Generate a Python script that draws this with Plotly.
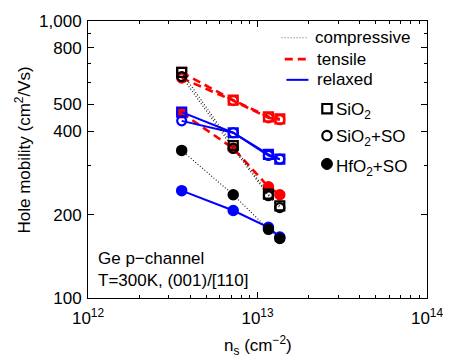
import plotly.graph_objects as go

# Sheet carrier density (cm^-2)
ns = [3.57e12, 7.19e12, 1.16e13, 1.354e13]

# Hole mobility (cm^2/Vs) by strain and gate stack
tensile_sio2 = [652, 518, 451, 443]
tensile_sio2_so = [622, 516, 447, 440]
tensile_hfo2_so = [466, 347, 252, 236]

relaxed_sio2 = [469, 395, 330, 317]
relaxed_sio2_so = [436, 395, 327, 317]
relaxed_hfo2_so = [244, 207, 180, 166]

compressive_sio2 = [652, 355, 237, 215]
compressive_sio2_so = [630, 347, 234, 212]
compressive_hfo2_so = [341, 236, 177, 164]

strain_labels = ["compressive", "tensile", "relaxed"]
stack_labels = ["SiO<sub>2</sub>", "SiO<sub>2</sub>+SO", "HfO<sub>2</sub>+SO"]

x_tickvals = [1e12, 1e13, 1e14]
x_ticktext = ["10<sup>12</sup>", "10<sup>13</sup>", "10<sup>14</sup>"]
x_minor = [k * 10.0 ** e for e in (12, 13) for k in range(2, 10)]
y_tickvals = [100, 200, 400, 500, 800, 1000]
y_ticktext = ["100", "200", "400", "500", "800", "1,000"]
y_minor = [300, 600, 700, 900]

FONT = "Liberation Sans, Arial, Helvetica, sans-serif"

line_styles = {
    "tensile": dict(color="#ff0000", width=2.6, dash="8px,5px"),
    "relaxed": dict(color="#0000ff", width=2),
    "compressive": dict(color="#111111", width=1.1, dash="1px,2px"),
}
mark_colors = {"tensile": "#ff0000", "relaxed": "#0000ff", "compressive": "#000000"}
symbols = [("square-open", 9, 2.2), ("circle-open", 9, 2.2), ("circle", 10, 1.5)]

series = [
    ("tensile", [tensile_sio2, tensile_sio2_so, tensile_hfo2_so]),
    ("relaxed", [relaxed_sio2, relaxed_sio2_so, relaxed_hfo2_so]),
    ("compressive", [compressive_sio2, compressive_sio2_so, compressive_hfo2_so]),
]

fig = go.Figure()
for strain, stacks in series:
    for (sym, size, lw), vals in zip(symbols, stacks):
        fig.add_trace(go.Scatter(
            x=ns, y=vals, mode="lines+markers",
            line=line_styles[strain],
            marker=dict(symbol=sym, size=size, color=mark_colors[strain],
                        line=dict(color=mark_colors[strain], width=lw)),
            showlegend=False, hoverinfo="skip",
        ))

L, R, T, B = 88, 19, 17, 62
W, H = 455, 360
PW, PH = W - L - R, H - T - B


def px(x):
    return (x - L) / PW


def py(y):
    return (H - B - y) / PH


shapes = []
annotations = []

# Key for the strain line styles
key_lines = [
    ("compressive", 286.7, 314.3, 34, 318.5),
    ("tensile", 290, 314, 55.7, 321),
    ("relaxed", 291.7, 314.3, 76.7, 321),
]
for name, x0, x1, y, xt in key_lines:
    st = dict(line_styles[name])
    if name == "compressive":
        st = dict(color="#666666", width=1, dash="1px,2px")
    shapes.append(dict(type="line", xref="paper", yref="paper",
                       x0=px(x0), x1=px(x1), y0=py(y), y1=py(y), line=st))
    annotations.append(dict(text=name, xref="paper", yref="paper", x=px(xt), y=py(y),
                            xanchor="left", yanchor="middle", showarrow=False,
                            font=dict(size=17)))

# Key for the gate-stack markers
mx = 333.3
key_marks = [(106, 108, "square"), (133.3, 136, "open"), (162, 166, "filled")]
for (ym, yt, kind), label in zip(key_marks, stack_labels):
    r = 4.8 if kind != "filled" else 5.6
    dx, dy = r / PW, r / PH
    shp = dict(xref="paper", yref="paper", x0=px(mx) - dx, x1=px(mx) + dx,
               y0=py(ym) - dy, y1=py(ym) + dy, line=dict(color="black", width=2.2))
    if kind == "square":
        shp["type"] = "rect"
    else:
        shp["type"] = "circle"
        if kind == "filled":
            shp["fillcolor"] = "black"
            shp["line"] = dict(color="black", width=1)
    shapes.append(shp)
    annotations.append(dict(text=label, xref="paper", yref="paper", x=px(341), y=py(yt),
                            xanchor="left", yanchor="middle", showarrow=False,
                            font=dict(size=17)))

# Device description
annotations.append(dict(text="Ge p\u2212channel", xref="paper", yref="paper",
                        x=px(96.5), y=py(258), xanchor="left", yanchor="middle",
                        showarrow=False, font=dict(size=17)))
annotations.append(dict(text="T=300K, (001)/[110]", xref="paper", yref="paper",
                        x=px(96.5), y=py(280), xanchor="left", yanchor="middle",
                        showarrow=False, font=dict(size=17)))

# Axis titles
annotations.append(dict(text="Hole mobility (cm<sup>2</sup>/Vs)", xref="paper", yref="paper",
                        x=px(21.7), y=py(148), xanchor="center", yanchor="middle",
                        textangle=-90, showarrow=False, font=dict(size=17)))
annotations.append(dict(text="n<sub>s</sub> (cm<sup>\u22122</sup>)", xref="paper", yref="paper",
                        x=px(262), y=py(346), xanchor="center", yanchor="middle",
                        showarrow=False, font=dict(size=17)))

axis_common = dict(
    showgrid=False, zeroline=False, showline=True, linecolor="black", linewidth=1,
    mirror="allticks", ticks="inside", ticklen=6, tickwidth=1, tickcolor="black",
    tickfont=dict(size=17, color="black"),
)

fig.update_layout(
    width=W, height=H,
    margin=dict(l=L, r=R, t=T, b=B),
    paper_bgcolor="white", plot_bgcolor="white",
    font=dict(family=FONT, size=17, color="black"),
    showlegend=False,
    xaxis=dict(type="log", range=[12, 14], tickmode="array", tickvals=x_tickvals,
               ticktext=x_ticktext, ticklabelstandoff=5,
               minor=dict(tickmode="array", tickvals=x_minor, ticks="inside", ticklen=3,
                          tickcolor="black"),
               **axis_common),
    yaxis=dict(type="log", range=[2, 3], tickmode="array", tickvals=y_tickvals,
               ticktext=y_ticktext, ticklabelstandoff=2,
               minor=dict(tickmode="array", tickvals=y_minor, ticks="inside", ticklen=3,
                          tickcolor="black"),
               **axis_common),
    shapes=shapes,
    annotations=annotations,
)

fig.write_html("out.html")
